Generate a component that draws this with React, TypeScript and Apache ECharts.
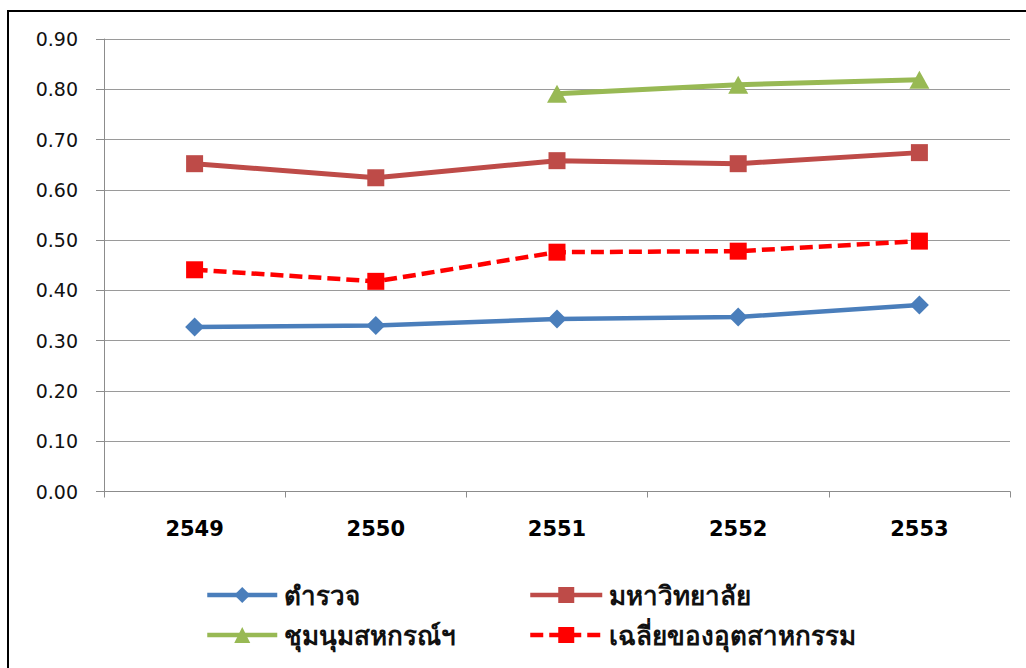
import React, { useEffect, useRef } from "react";
import * as echarts from "echarts";

const categories = ["2549", "2550", "2551", "2552", "2553"];
const police = [0.327, 0.33, 0.343, 0.347, 0.371];
const university = [0.652, 0.624, 0.658, 0.652, 0.674];
const coop: (number | null)[] = [null, null, 0.791, 0.809, 0.819];
const industryAvg = [0.441, 0.418, 0.476, 0.478, 0.498];
const names = ["ตำรวจ", "มหาวิทยาลัย", "ชุมนุมสหกรณ์ฯ", "เฉลี่ยของอุตสาหกรรม"];

export default function App() {
  const ref = useRef<HTMLDivElement>(null);
  useEffect(() => {
    if (!ref.current) return;
    const chart = echarts.init(ref.current, null, { renderer: "svg" });
    const legendText = {
      fontFamily: "'Noto Sans', 'DejaVu Sans', sans-serif",
      fontSize: 26,
      fontWeight: "bold" as const,
      color: "#111",
      padding: [0, 0, 0, 2],
    };
    chart.setOption({
      animation: false,
      backgroundColor: "#fff",
      grid: { left: 104, right: 16, top: 39, bottom: 176.5, containLabel: false },
      graphic: [
        {
          type: "rect",
          shape: { x: 8, y: 11, width: 1100, height: 800 },
          style: { fill: "none", stroke: "#000", lineWidth: 2 },
          silent: true,
        },
      ],
      legend: [
        {
          left: 200,
          top: 577,
          orient: "vertical",
          itemGap: 14,
          itemWidth: 70,
          itemHeight: 20,
          lineStyle: { width: 4.5 },
          data: [names[0], names[2]],
          textStyle: legendText,
        },
        {
          left: 523,
          top: 577,
          orient: "vertical",
          itemGap: 14,
          itemWidth: 72,
          itemHeight: 20,
          lineStyle: { width: 4.5 },
          data: [names[1], names[3]],
          textStyle: legendText,
        },
      ],
      xAxis: {
        type: "category",
        data: categories,
        boundaryGap: true,
        axisLine: { lineStyle: { color: "#8c8c8c", width: 1 } },
        axisTick: { show: true, length: 6, lineStyle: { color: "#8c8c8c" } },
        axisLabel: {
          margin: 27,
          fontFamily: "'DejaVu Sans', sans-serif",
          fontWeight: "bold",
          fontSize: 21,
          color: "#000",
        },
      },
      yAxis: {
        type: "value",
        min: 0,
        max: 0.9,
        interval: 0.1,
        axisLine: { show: true, lineStyle: { color: "#8c8c8c", width: 1 } },
        axisTick: { show: true, length: 8, lineStyle: { color: "#8c8c8c" } },
        splitLine: { show: true, lineStyle: { color: "#9a9a9a", width: 1 } },
        axisLabel: {
          margin: 26,
          fontFamily: "'DejaVu Sans', sans-serif",
          fontSize: 19,
          color: "#111",
          formatter: (v: number) => v.toFixed(2),
        },
      },
      series: [
        {
          name: names[0],
          type: "line",
          data: police,
          symbol: "diamond",
          symbolSize: 19,
          itemStyle: { color: "#4A7EBB" },
          lineStyle: { color: "#4A7EBB", width: 4.5 },
        },
        {
          name: names[1],
          type: "line",
          data: university,
          symbol: "rect",
          symbolSize: 17,
          itemStyle: { color: "#BE4B48" },
          lineStyle: { color: "#BE4B48", width: 5 },
        },
        {
          name: names[2],
          type: "line",
          data: coop,
          symbol: "triangle",
          symbolSize: [20, 18],
          itemStyle: { color: "#98B954" },
          lineStyle: { color: "#98B954", width: 5 },
        },
        {
          name: names[3],
          type: "line",
          data: industryAvg,
          symbol: "rect",
          symbolSize: 17,
          itemStyle: { color: "#FF0000" },
          lineStyle: { color: "#FF0000", width: 4.5, type: [13, 6] },
        },
      ],
    });
    return () => chart.dispose();
  }, []);
  return (
    <div
      ref={ref}
      style={{ position: "fixed", left: 0, top: 0, width: 1026, height: 668, overflow: "hidden" }}
    />
  );
}
